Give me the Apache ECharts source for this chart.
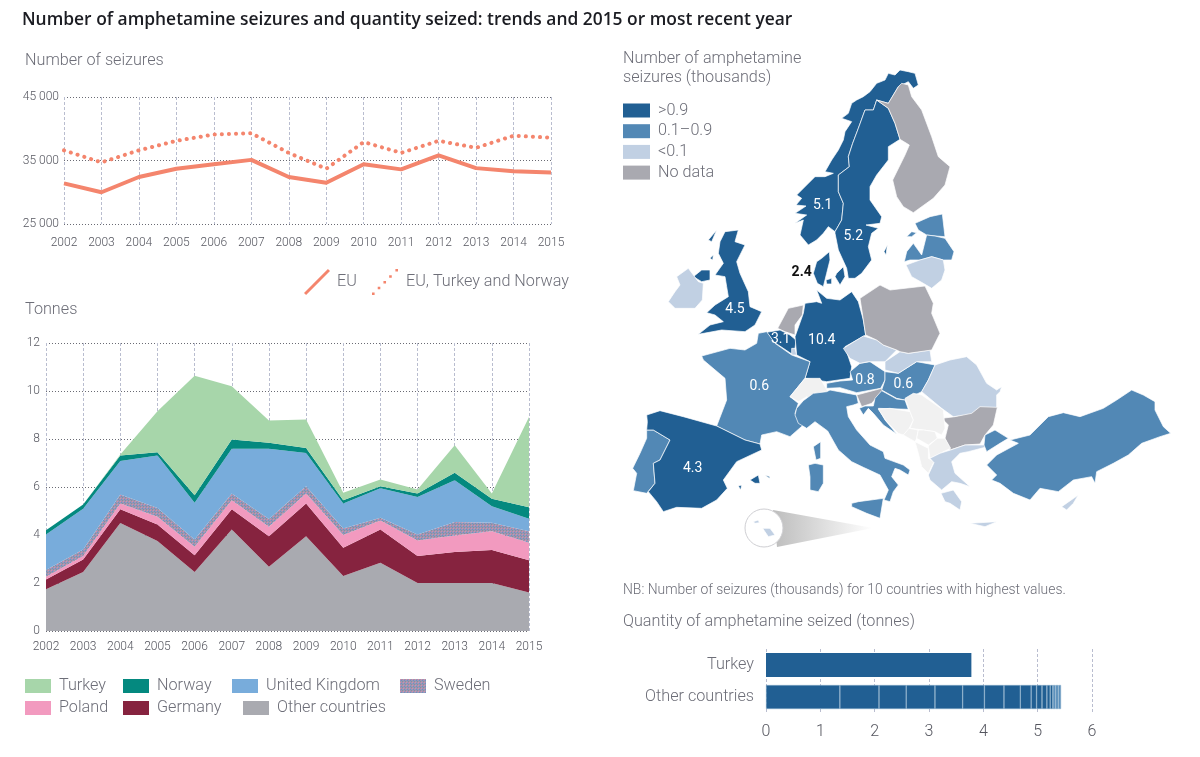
<!DOCTYPE html>
<html><head><meta charset="utf-8">
<style>html,body{margin:0;padding:0;background:#fff}#c{width:1200px;height:757px}</style>
<script src="https://cdn.jsdelivr.net/npm/echarts@6/dist/echarts.min.js"></script>
</head><body><div id="c"></div>
<script>
const years=['2002','2003','2004','2005','2006','2007','2008','2009','2010','2011','2012','2013','2014','2015'];
const seizuresEU=[31400,30000,32400,33700,34400,35100,32400,31500,34400,33600,35800,33800,33300,33100];
const seizuresEUTN=[36600,34700,36600,38100,39100,39300,36200,33700,37900,36200,38100,37000,38900,38600];
const tOther=[1.74,2.46,4.5,3.75,2.46,4.23,2.68,3.95,2.29,2.84,2.0,2.0,2.0,1.6];
const tGermany=[.41,.52,.57,.69,.70,.84,1.27,1.36,1.18,1.39,1.12,1.29,1.37,1.35];
const tPoland=[.11,.14,.24,.32,.35,.38,.39,.42,.53,.37,.65,.69,.79,.73];
const tSweden=[.28,.28,.38,.37,.30,.28,.33,.30,.27,.12,.25,.56,.35,.48];
const tUK=[1.48,1.69,1.39,2.18,1.53,1.86,2.92,1.39,1.04,1.23,1.56,1.74,.69,.52];
const tNorway=[.18,.18,.23,.14,.32,.39,.25,.21,.14,.08,.15,.31,.31,.48];
const tTurkey=[0,0,.04,1.71,4.98,2.22,.93,1.18,.31,.28,.17,1.15,.22,3.76];
const barCats=['Turkey','Other countries'];
const barTurkey=3.78;
const barOtherSegments=[1.36,.72,.5,.53,.51,.4,.36,.3,.2,.1,.1,.09,.06,.05,.05,.05,.05];
// class: 3 >0.9, 2 0.1-0.9, 1 <0.1, 0 no data, -1 not in the data set
const mapClass={Norway:3,Sweden:3,Denmark:3,'United Kingdom':3,Belgium:3,Germany:3,Spain:3,
 Finland:0,Netherlands:0,Poland:0,Slovenia:0,Bulgaria:0,
 Estonia:2,Latvia:2,France:2,Portugal:2,Italy:2,Austria:2,Hungary:2,Croatia:2,Turkey:2,
 Lithuania:1,Ireland:1,Czechia:1,Slovakia:1,Romania:1,Greece:1,Cyprus:1,Malta:1,Luxembourg:1,
 Switzerland:-1,Bosnia:-1,Serbia:-1,Montenegro:-1,Kosovo:-1,Macedonia:-1,Albania:-1};
const mapLabels={Norway:'5.1',Sweden:'5.2',Denmark:'2.4','United Kingdom':'4.5',Belgium:'3.1',Germany:'10.4',Spain:'4.3',France:'0.6',Austria:'0.8',Hungary:'0.6'};

const A=[620,60],B=[620,280],C=[840,320],D=[790,380],E=[780,60],F=[665,225],G=[860,370];
const shapes={
Norway:[[E,[165,515,185,480,190,430,175,395,175,345,208,320,205,290,218,250,235,205,255,150,280,150,290,120,325,130,355,80,385,65,400,85,415,75,405,40,385,35,360,30,345,45,325,40,315,60,290,70,270,95,250,110,230,120,215,130,205,160,185,175,215,185,195,215,190,240,175,270,155,300,135,335,160,340,135,350,105,350,80,375,50,405,65,415,48,435,78,438,45,460,80,465,45,490,70,480,60,525,85,555,110,540,130,520,145,500]]],
Sweden:[[E,[165,515,185,480,190,430,175,395,175,345,208,320,205,290,218,250,235,205,255,150,280,150,290,120,325,145,345,190,360,238,325,260,325,300,290,345,270,380,270,420,305,470,300,490,258,495,295,505,275,520,265,560,275,600,245,640,225,655,205,655,200,625,175,570,165,520]],[E,[312,575,322,555,318,585]]],
Finland:[[E,[290,120,325,130,355,80,365,70,385,75,395,110,425,150,455,230,475,290,510,320,495,375,460,415,400,458,370,440,350,410,338,360,375,285,388,255,360,238,345,190,325,145]]],
Estonia:[[E,[405,490,450,470,487,462,495,530,465,528,440,525,415,510]],[E,[380,530,395,515,410,518,395,530]]],
Latvia:[[E,[373,605,380,575,400,550,425,585,440,525,465,528,495,535,522,575,515,600,490,600,455,590,420,600,390,600]]],
Lithuania:[[E,[378,615,420,600,455,590,490,600,495,630,485,660,455,685,430,670,395,650]]],
Denmark:[[E,[110,605,125,595,148,575,150,600,140,640,130,680,112,670,100,640]],[E,[165,650,170,640,190,620,195,650,180,675]],[E,[138,660,155,655,155,672,140,672]]],
'United Kingdom':[[F,[180,20,220,15,210,50,240,60,215,110,225,145,250,200,255,245,290,260,270,300,240,320,170,315,100,328,135,300,175,290,150,270,125,263,150,240,190,215,185,185,180,155,150,150,175,115,160,85,165,50]],[F,[85,155,110,135,135,135,135,165,110,170]],[F,[130,45,155,15,140,50]],[F,[135,100,145,90,143,105]]],
Ireland:[[F,[35,155,70,130,100,170,115,175,112,225,90,250,30,250,10,230,30,200,45,180]]],
Netherlands:[[F,[338,310,370,250,415,240,412,270,390,300,390,330,360,320]]],
Belgium:[[F,[305,322,345,315,375,330,393,345,390,370,385,390,355,370,325,350]]],
Luxembourg:[[B,[515,205,525,205,530,225,515,225]]],
Germany:[[B,[555,70,590,65,605,70,590,30,620,55,660,60,695,35,715,65,730,120,737,165,675,200,695,260,690,295,620,305,555,295,570,245,530,225,525,170,550,100]]],
France:[[B,[415,160,440,155,465,190,515,225,570,245,555,295,510,350,535,370,525,400,550,435,510,470,470,455,425,465,420,492,375,480,290,438,320,360,315,295,250,240,245,228,330,205,375,210,410,190]],[D,[70,200,92,185,92,235,78,240]]],
Switzerland:[[B,[510,350,555,295,600,295,630,345,590,365,560,350,535,365]]],
Italy:[[D,[15,105,20,85,40,62,70,40,110,35,120,30,200,45,205,70,190,75,170,80,175,110,200,150,240,195,280,215,285,235,340,255,360,270,355,285,330,270,315,265,305,290,325,315,310,335,300,365,282,360,295,330,270,285,220,262,185,245,145,210,113,153,75,125,50,145,25,130]],[D,[55,255,75,250,100,255,100,310,85,335,60,330,60,290]],[D,[185,370,205,365,280,355,270,415,230,400,185,380]]],
Austria:[[C,[-40,190,0,183,38,180,30,155,60,130,90,125,135,155,135,180,122,205,50,218,0,203,-40,205]]],
Slovenia:[[D,[200,45,275,25,280,30,245,70,215,80]]],
Hungary:[[C,[135,155,175,160,230,125,285,135,265,180,245,215,195,240,170,235,125,210,135,180]]],
Slovakia:[[C,[135,125,180,95,205,100,270,90,275,125,230,125,175,160,135,150]]],
Czechia:[[C,[10,85,70,48,110,60,130,75,170,90,135,125,85,125,60,130,30,115]]],
Poland:[[A,[720,715,780,675,810,690,915,678,940,730,935,760,960,820,935,870,865,880,840,875,830,870,790,855,770,840,737,825,730,780]]],
Romania:[[C,[245,215,265,180,285,135,330,120,380,110,410,135,440,190,470,210,485,200,480,215,470,225,470,265,420,265,390,285,340,290,305,265]]],
Bulgaria:[[G,[255,205,265,165,245,145,285,140,335,130,360,110,412,112,400,165,375,195,360,222,315,225,270,240]]],
Croatia:[[C,[75,258,100,258,105,235,125,212,170,237,195,240,205,268,115,265,135,300,170,342,130,315,100,280,85,265,70,285,58,265]]],
Bosnia:[[G,[55,118,90,115,150,125,160,150,145,180,130,195,115,190,80,155]]],
Serbia:[[G,[150,125,135,85,160,70,185,75,250,120,255,175,245,195,225,185,190,180,150,175,160,150]]],
Montenegro:[[G,[130,195,147,175,175,180,170,205,165,215]]],
Kosovo:[[G,[175,180,190,180,225,185,232,205,205,225,170,205]]],
Macedonia:[[G,[205,228,232,205,255,205,272,235,240,250,210,265]]],
Albania:[[G,[165,215,205,235,205,265,222,275,205,310,185,290,175,250]]],
Greece:[[G,[205,315,222,278,210,265,240,250,272,240,315,225,370,225,378,212,375,232,325,245,300,250,275,275,285,310,330,350,300,340,275,335,245,360,210,330]],[G,[243,370,280,360,305,395,300,420,270,400,255,395]],[G,[330,460,410,455,375,470]]],
Turkey:[[G,[372,225,375,195,405,180,445,205,420,220,380,245]],[C,[510,360,570,345,625,290,670,278,720,290,790,265,830,240,875,210,910,225,945,245,945,270,970,320,992,340,960,350,905,370,865,405,820,430,770,455,765,490,755,470,700,480,655,515,600,505,570,540,520,520,480,490,455,480,470,465,440,435,470,405,535,370]]],
Cyprus:[[C,[665,560,715,525,700,550,680,570]]],
Portugal:[[B,[80,450,100,450,150,480,120,540,100,550,105,610,80,640,40,632,50,580,38,565,60,520,80,475]]],
Spain:[[B,[80,405,120,392,190,410,290,438,375,480,420,492,425,510,350,545,310,600,322,625,290,660,245,685,170,682,130,695,110,665,85,635,105,610,100,550,120,540,150,480,100,450,80,450,82,425]],[B,[390,600,415,585,420,610,405,610]],[B,[435,585,450,590,448,595]],[B,[355,618,365,615,362,630]]],
Malta:[[B,[400,725,415,720,418,728,405,730]],[B,[428,745,450,745,465,765,445,770]]]
};
const labelAnchors={Norway:[A,608,435],Sweden:[A,700,528],Denmark:[A,545,637],'United Kingdom':[A,345,747],Belgium:[A,482,838],Germany:[A,605,840],France:[B,418,320],Spain:[B,218,565],Austria:[C,75,180],Hungary:[C,190,193]};
const toGeo=(o,x,y)=>[o[0]+x/3,-(o[1]+y/3)];
const features=Object.keys(shapes).map(name=>{
  const polys=shapes[name].map(([o,f])=>{const r=[];for(let i=0;i<f.length;i+=2)r.push(toGeo(o,f[i],f[i+1]));r.push(r[0]);return [r];});
  const props={name};
  if(labelAnchors[name]){const a=labelAnchors[name];props.cp=toGeo(a[0],a[1],a[2]);}
  return {type:'Feature',properties:props,geometry:{type:'MultiPolygon',coordinates:polys}};
});
echarts.registerMap('europe',{type:'FeatureCollection',features});

const FONT='Roboto';const TICK='Roboto';
const TXT='#6d6e78';const GREY='#55565f';
const cv=document.createElement('canvas');cv.width=cv.height=3;
{const g=cv.getContext('2d');g.fillStyle='#9a97b4';g.fillRect(0,0,3,3);g.fillStyle='#d98aa8';g.fillRect(0,0,1,1);g.fillStyle='#6d90c4';g.fillRect(1,1,1,1);g.fillStyle='#8c8d95';g.fillRect(2,2,1,1);}
const pattern={image:cv,repeat:'repeat'};

const hLine={show:true,lineStyle:{color:'#6a6b74',type:[1,2],width:1}};
const vLine={show:true,lineStyle:{color:'#b9bdcf',type:[3,2],width:1}};
const areaDefs=[['Other countries',tOther,'#a9aab0'],['Germany',tGermany,'#86233f'],['Poland',tPoland,'#f29abf'],['Sweden',tSweden,pattern],['United Kingdom',tUK,'#78acdb'],['Norway',tNorway,'#04897f'],['Turkey',tTurkey,'#a7d6aa']];
const legendSpots=[['Turkey',20,673],['Norway',118,673],['United Kingdom',227,673],['Sweden',395,673],['Poland',20,695],['Germany',118,695],['Other countries',238,695]];
const classPieces=[{value:3,label:'>0.9',color:'#215f93'},{value:2,label:'0.1–0.9',color:'#5288b5'},{value:1,label:'<0.1',color:'#c1d0e3'},{value:0,label:'No data',color:'#a9a9b0'}];
const segs=barOtherSegments.map((v,i)=>({type:'bar',name:'s'+i,xAxisIndex:2,yAxisIndex:2,stack:'q',barWidth:24,data:[null,v],silent:true,
  itemStyle:{color:i>=14?'#5a8fbb':'#215f93',borderColor:'#8db0cd',borderWidth:.5}}));
const thin={fontFamily:FONT,fontWeight:300};

const option={
 animation:false,backgroundColor:'#fff',textStyle:{fontFamily:FONT},
 title:[
  {text:'Number of amphetamine seizures and quantity seized: trends and 2015 or most recent year',left:17,top:7,textStyle:{fontFamily:'"Open Sans"',fontWeight:600,fontSize:17.4,color:'#1b1c22'}},
  {text:'Number of seizures',left:20,top:47.5,textStyle:{...thin,fontSize:16.2,color:TXT}},
  {text:'Tonnes',left:20,top:296.5,textStyle:{...thin,fontSize:16.2,color:TXT}},
  {text:'Number of amphetamine\nseizures (thousands)',left:618,top:44,textStyle:{...thin,fontSize:16.2,lineHeight:19,color:TXT}},
  {text:'NB: Number of seizures (thousands) for 10 countries with highest values.',left:618,top:579,textStyle:{...thin,fontSize:13.9,color:TXT}},
  {text:'Quantity of amphetamine seized (tonnes)',left:618,top:609,textStyle:{...thin,fontSize:16.2,color:TXT}}
 ],
 grid:[
  {left:64,top:97,width:487,height:127},
  {left:46,top:343,width:483,height:288},
  {left:766,top:649,width:326,height:64}
 ],
 xAxis:[
  {type:'category',gridIndex:0,data:years,boundaryGap:false,axisLine:{show:false},axisTick:{show:false},splitLine:vLine,axisLabel:{fontFamily:TICK,fontWeight:300,fontSize:12,color:GREY,margin:13,interval:0}},
  {type:'category',gridIndex:1,data:years,boundaryGap:false,axisLine:{show:false},axisTick:{show:false},splitLine:vLine,axisLabel:{fontFamily:TICK,fontWeight:300,fontSize:12,color:GREY,margin:10,interval:0}},
  {type:'value',gridIndex:2,min:0,max:6,interval:1,axisLine:{show:false},axisTick:{show:false},splitLine:vLine,axisLabel:{fontFamily:FONT,fontWeight:300,fontSize:16,color:GREY,margin:11}}
 ],
 yAxis:[
  {type:'value',gridIndex:0,min:25000,max:45000,interval:10000,axisLine:{show:false},axisTick:{show:false},splitLine:hLine,axisLabel:{fontFamily:TICK,fontWeight:300,fontSize:12,color:GREY,margin:5,formatter:v=>String(v).replace(/(\d)(\d{3})$/,'$1 $2')}},
  {type:'value',gridIndex:1,min:0,max:12,interval:2,axisLine:{show:false},axisTick:{show:false},splitLine:hLine,axisLabel:{fontFamily:TICK,fontWeight:300,fontSize:12,color:GREY,margin:6}},
  {type:'category',gridIndex:2,inverse:true,data:barCats,axisLine:{show:false},axisTick:{show:false},splitLine:{show:false},axisLabel:{fontFamily:FONT,fontWeight:300,fontSize:16.2,color:TXT,margin:12}}
 ],
 legend:[
  {data:[{name:'EU',icon:'path://M0 92L92 0L100 8L8 100Z'}],left:299,top:264,itemWidth:26,itemHeight:26,itemGap:0,textStyle:{...thin,fontSize:16.2,color:TXT,padding:[0,0,0,2]}},
  {data:[{name:'EU, Turkey and Norway',icon:'path://M0 90h10v10h-10zM22 68h10v10h-10zM44 46h10v10h-10zM66 24h10v10h-10zM90 0h10v10h-10z'}],left:367,top:264,itemWidth:26,itemHeight:26,itemGap:0,textStyle:{...thin,fontSize:16.2,color:TXT,padding:[0,0,0,3]}}
 ].concat(legendSpots.map(([n,l,t])=>({data:[{name:n,icon:'rect'}],left:l,top:t,itemWidth:26,itemHeight:14,textStyle:{...thin,fontSize:16.2,color:TXT,padding:[0,0,0,3]}}))),
 visualMap:{type:'piecewise',seriesIndex:0,pieces:classPieces,outOfRange:{color:'#f1f1f1'},left:608,top:87.5,align:'left',orient:'vertical',itemWidth:27,itemHeight:14,itemGap:4.7,itemSymbol:'rect',selectedMode:false,hoverLink:false,textGap:8,textStyle:{...thin,fontSize:16.2,color:TXT}},
 graphic:{elements:[
  {type:'polygon',z:0,silent:true,shape:{points:[[773,510],[873,528],[777,547]]},style:{fill:{type:'linear',x:0,y:0,x2:1,y2:0,colorStops:[{offset:0,color:'#bdbdbd'},{offset:1,color:'#ffffff'}]}}},
  {type:'circle',z:1,silent:true,shape:{cx:764,cy:528,r:19},style:{fill:'#fff',stroke:'#cfcfd3',lineWidth:1}}
 ]},
 series:[
  {type:'map',map:'europe',left:620,top:60,width:560,height:500,boundingCoords:[[620,-60],[1180,-560]],aspectScale:1,roam:false,silent:true,showLegendSymbol:false,z:3,
   itemStyle:{borderColor:'#fff',borderWidth:.7},
   label:{show:true,fontFamily:FONT,fontSize:14,fontWeight:400,color:'#fff',formatter:p=>mapLabels[p.name]||''},
   emphasis:{disabled:true},select:{disabled:true},
   data:Object.keys(mapClass).map(n=>({name:n,value:mapClass[n],label:n==='Denmark'?{color:'#111',fontWeight:'bold'}:undefined}))},
  {type:'line',name:'EU',xAxisIndex:0,yAxisIndex:0,data:seizuresEU,symbol:'none',itemStyle:{color:'#f4856d'},lineStyle:{color:'#f4856d',width:4},z:4},
  {type:'line',name:'EU, Turkey and Norway',xAxisIndex:0,yAxisIndex:0,data:seizuresEUTN,symbol:'none',itemStyle:{color:'#f4856d'},lineStyle:{color:'#f4856d',width:4,type:[.1,7],cap:'round'},z:4}
 ].concat(areaDefs.map(([n,d,c])=>({type:'line',name:n,xAxisIndex:1,yAxisIndex:1,stack:'t',data:d,symbol:'none',lineStyle:{width:0},areaStyle:{color:c,opacity:1},itemStyle:{color:c},z:3})))
 .concat([{type:'bar',name:'Turkey bar',xAxisIndex:2,yAxisIndex:2,stack:'q',barWidth:24,data:[barTurkey,null],itemStyle:{color:'#215f93'},silent:true}]).concat(segs)
};
const chart=echarts.init(document.getElementById('c'),null,{renderer:'canvas',width:1200,height:757});
chart.setOption(option);
</script></body></html>
